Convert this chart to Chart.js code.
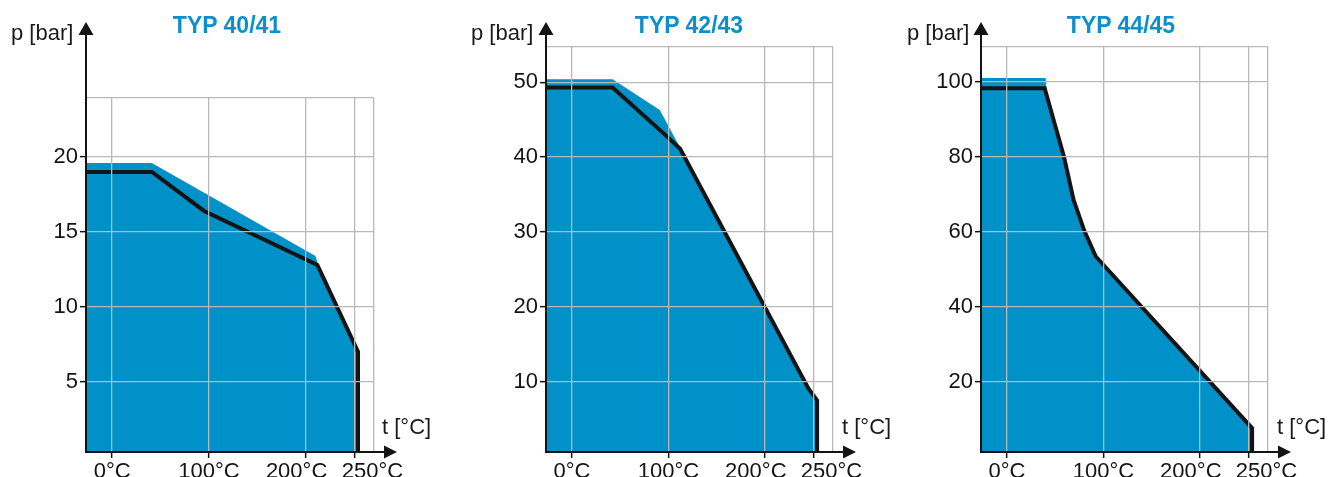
<!DOCTYPE html>
<html>
<head>
<meta charset="utf-8">
<script src="https://cdn.jsdelivr.net/npm/chart.js@4.4.0/dist/chart.umd.min.js"></script>
<style>
  html, body { margin: 0; padding: 0; background: #fff; }
  #wrap { position: relative; width: 1328px; height: 477px; overflow: hidden; font-family: "Liberation Sans", Arial, sans-serif; }
  canvas { position: absolute; top: 0; }
  .title { position: absolute; top: 14px; font-weight: bold; font-size: 23px; line-height: 23px; color: #0a90cc; white-space: nowrap; transform: translateX(-50%); }
  .lbl { position: absolute; font-size: 22px; line-height: 22px; color: #1a1a1a; white-space: nowrap; }
</style>
</head>
<body>
<div id="wrap">
  <canvas id="c1" width="442" height="477" style="left:0"></canvas>
  <canvas id="c2" width="442" height="477" style="left:442px"></canvas>
  <canvas id="c3" width="444" height="477" style="left:884px"></canvas>

  <div class="title" style="left:227px">TYP 40/41</div>
  <div class="title" style="left:689px">TYP 42/43</div>
  <div class="title" style="left:1121px">TYP 44/45</div>

  <div class="lbl" style="left:11px;top:22px">p [bar]</div>
  <div class="lbl" style="left:471px;top:22px">p [bar]</div>
  <div class="lbl" style="left:907px;top:22px">p [bar]</div>

  <div class="lbl" style="left:382px;top:416px">t [°C]</div>
  <div class="lbl" style="left:842px;top:416px">t [°C]</div>
  <div class="lbl" style="left:1277px;top:416px">t [°C]</div>
</div>

<script>
// temperature axis (°C)
const tempTicks = [0, 100, 200, 250];
const tempMin = -27;
const tempMax = 270.5;

// TYP 40/41 - black curve and the upper blue edge
const t40 = [-27, 41, 95, 212, 254, 254];
const p40 = [19.0, 19.0, 16.4, 12.8, 7.0, 0];
const t40env = [-27, 41, 210, 213, 254, 254];
const p40env = [19.6, 19.6, 13.4, 12.8, 7.0, 0];
const pTicks40 = [5, 10, 15, 20];

// TYP 42/43
const t42 = [-27, 42, 98, 112, 245, 254, 254];
const p42 = [49.3, 49.3, 42.8, 41.1, 9.1, 7.5, 0];
const t42env = [-27, 42, 91, 103, 113, 245, 254, 254];
const p42env = [50.4, 50.4, 46.3, 43.4, 41.0, 9.1, 7.5, 0];
const pTicks42 = [10, 20, 30, 40, 50];

// TYP 44/45
const t44 = [-27, 39, 59, 69, 80, 92, 254, 254];
const p44 = [98.3, 98.3, 80, 68.5, 60.3, 53.4, 7.6, 0];
const t44env = [-27, 40, 41, 59, 69, 80, 92, 254, 254];
const p44env = [101, 101, 97.3, 80, 68.5, 60.3, 53.4, 7.6, 0];
const pTicks44 = [20, 40, 60, 80, 100];

const BLUE = '#0091c8';
const GRID = '#b9b9b9';
const INK = '#141414';

Chart.defaults.font.family = '"Liberation Sans", Arial, sans-serif';
Chart.defaults.color = INK;

const pts = (xs, ys) => xs.map((x, i) => ({ x: x, y: ys[i] }));

// the 200 and 250 labels sit pushed apart in the original
function tempLabel(v) {
  if (tempTicks.indexOf(v) < 0) return '';
  const s = v + '°C';
  if (v === 200) return s + '   ';
  if (v === 250) return '      ' + s;
  return s;
}

// axis lines with arrow heads, they run past the plot area
const axisArrows = {
  id: 'axisArrows',
  afterDraw(chart) {
    const { ctx, chartArea: a } = chart;
    ctx.save();
    ctx.strokeStyle = INK;
    ctx.fillStyle = INK;
    ctx.lineWidth = 2;
    ctx.beginPath();
    ctx.moveTo(a.left, a.bottom + 1);
    ctx.lineTo(a.left, 33);
    ctx.moveTo(a.left - 1, a.bottom);
    ctx.lineTo(a.right + 12, a.bottom);
    ctx.stroke();
    ctx.beginPath();
    ctx.moveTo(a.left, 22);
    ctx.lineTo(a.left - 7.5, 35);
    ctx.lineTo(a.left + 7.5, 35);
    ctx.closePath();
    ctx.moveTo(a.right + 23, a.bottom);
    ctx.lineTo(a.right + 10, a.bottom - 6.5);
    ctx.lineTo(a.right + 10, a.bottom + 6.5);
    ctx.closePath();
    ctx.fill();
    ctx.restore();
  }
};

function makeChart(id, pad, yMin, yMax, yTicks, tLine, pLine, tEnv, pEnv) {
  const yGridVals = yTicks.concat([yMax]);
  const xGridVals = tempTicks.concat([tempMax]);

  return new Chart(document.getElementById(id), {
    type: 'line',
    data: {
      datasets: [
        {
          data: pts(tLine, pLine),
          borderColor: INK,
          borderWidth: 4,
          borderJoinStyle: 'miter',
          pointRadius: 0,
          fill: false,
          order: 0,
          clip: { left: 3, top: 3, right: 3, bottom: 0 }
        },
        {
          data: pts(tEnv, pEnv),
          borderWidth: 0,
          borderColor: BLUE,
          backgroundColor: BLUE,
          pointRadius: 0,
          fill: 'start',
          order: 1
        }
      ]
    },
    options: {
      responsive: false,
      animation: false,
      events: [],
      layout: { padding: pad },
      plugins: { legend: { display: false }, tooltip: { enabled: false } },
      scales: {
        x: {
          type: 'linear',
          min: tempMin,
          max: tempMax,
          afterBuildTicks: s => { s.ticks = xGridVals.map(v => ({ value: v })); },
          afterFit: s => { s.height = 25; },
          border: { display: false },
          grid: {
            z: 1,
            color: GRID,
            lineWidth: 1.3,
            tickLength: 6,
            tickWidth: 1.5,
            tickColor: c => (c.tick && c.tick.value === tempMax) ? 'rgba(0,0,0,0)' : INK
          },
          ticks: {
            padding: 3,
            maxRotation: 0,
            autoSkip: false,
            font: { size: 22, lineHeight: 1 },
            callback: v => tempLabel(v)
          }
        },
        y: {
          min: yMin,
          max: yMax,
          afterBuildTicks: s => { s.ticks = yGridVals.map(v => ({ value: v })); },
          afterFit: s => { s.width = 60; },
          border: { display: false },
          grid: {
            z: 1,
            color: GRID,
            lineWidth: 1.3,
            tickLength: 6,
            tickWidth: 1.5,
            tickColor: c => (c.tick && c.tick.value === yMax) ? 'rgba(0,0,0,0)' : INK
          },
          ticks: {
            padding: 2,
            autoSkip: false,
            font: { size: 22 },
            callback: v => (v === yMax ? '' : String(v))
          }
        }
      }
    },
    plugins: [axisArrows]
  });
}

makeChart('c1', { left: 26, right: 68, top: 98, bottom: 0 }, 0.31, 23.94, pTicks40, t40, p40, t40env, p40env);
makeChart('c2', { left: 44, right: 51, top: 47, bottom: 0 }, 0.61, 54.7, pTicks42, t42, p42, t42env, p42env);
makeChart('c3', { left: 37, right: 60, top: 47, bottom: 0 }, 1.23, 109.3, pTicks44, t44, p44, t44env, p44env);
</script>
</body>
</html>
